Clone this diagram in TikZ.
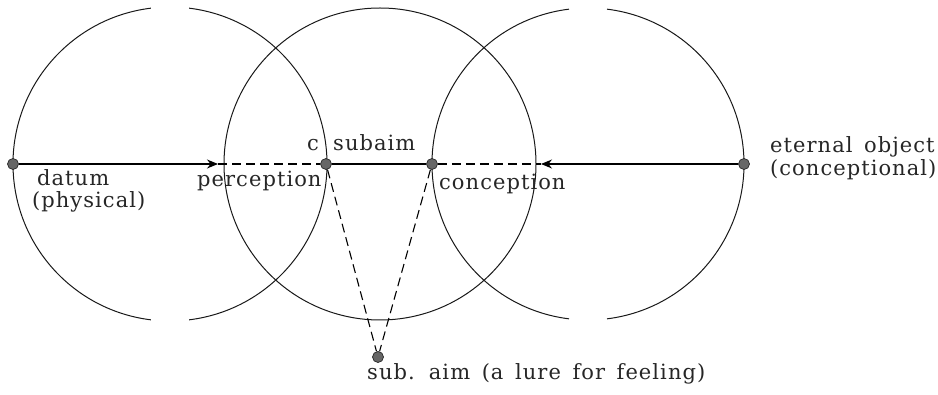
\documentclass[tikz,border=0pt]{standalone}
\usepackage{fontspec}
\setmainfont{DejaVu Serif}[LetterSpace=5, WordSpace=1.5]
\usetikzlibrary{arrows.meta}
\begin{document}
\begin{tikzpicture}[x=1pt,y=1pt]
\tikzset{
 circ/.style={line width=1pt, draw=black!90},
 dot/.style={circle, fill=black!60, draw=black!85, line width=0.7pt, inner sep=0pt, minimum size=11pt},
 lbl/.style={font=\fontsize{21}{25}\selectfont, inner sep=0pt, anchor=base west, text=black!85},
 dsh/.style={dash pattern=on 9pt off 5pt, line width=1.1pt},
 ln/.style={line width=1.1pt},
 arr/.style={-{Stealth[length=11pt,width=9pt]}}
}
\useasboundingbox (0,0) rectangle (938,-395);
% circles
\draw[circ] (170,-164) ++(97:157pt) arc[start angle=97,end angle=263,radius=157pt];
\draw[circ] (170,-164) ++(-83:157pt) arc[start angle=-83,end angle=83,radius=157pt];
\draw[circ] (380,-164) circle[radius=156pt];
\draw[circ] (588,-164) ++(97:156pt) arc[start angle=97,end angle=263,radius=156pt];
\draw[circ] (588,-164) ++(-83:156pt) arc[start angle=-83,end angle=83,radius=156pt];
% points
\node[dot] (datum) at (13,-164) {};
\node[dot] (c) at (326,-164) {};
\node[dot] (conc) at (432,-164) {};
\node[dot] (eo) at (744,-164) {};
\node[dot] (sa) at (378,-357) {};
\coordinate (pa) at (218,-164);
\coordinate (ca) at (541,-164);
% connectors
\draw[ln,arr] (datum) -- (pa);
\draw[dsh] (pa) -- (c);
\draw[ln] (c) -- (conc);
\draw[dsh] (conc) -- (ca);
\draw[ln,arr] (eo) -- (ca);
\draw[dsh] (c) -- (sa);
\draw[dsh] (conc) -- (sa);
% labels
\node[lbl, anchor=base east] (lc) at (319,-151) {c};
\node[lbl] (lsub) at (333,-151) {subaim};
\node[lbl] (lper) at (197,-187) {perception};
\node[lbl] (lcon) at (439,-190) {conception};
\node[lbl] (ldat) at (37,-186) {datum};
\node[lbl] (lphy) at (32,-208) {(physical)};
\node[lbl] (leo) at (770,-153) {eternal object};
\node[lbl] (lcc) at (770,-176) {(conceptional)};
\node[lbl] (lsa) at (367,-380) {sub. aim (a lure for feeling)};
\end{tikzpicture}
\end{document}
